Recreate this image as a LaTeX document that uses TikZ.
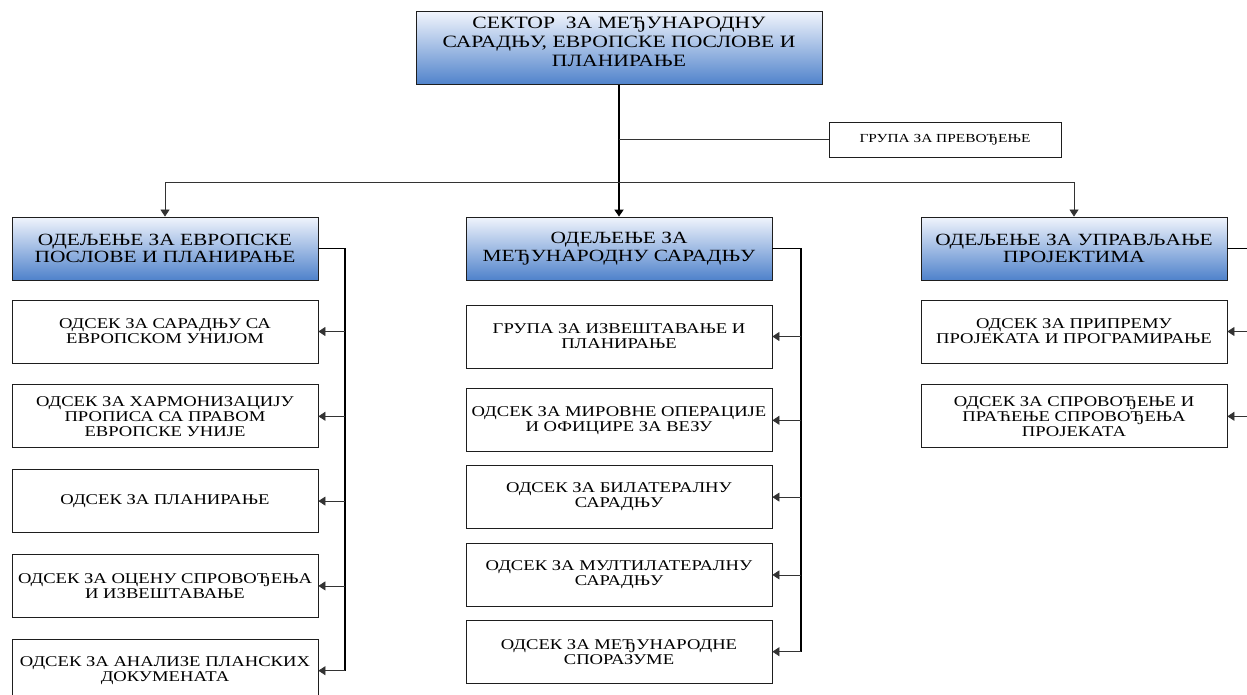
\documentclass[tikz,border=0pt]{standalone}
\usepackage{fontspec}
\setmainfont[FakeStretch=1.25]{Liberation Serif}
\usetikzlibrary{arrows.meta, positioning}
\definecolor{deptop}{HTML}{F0F4FC}
\definecolor{depbot}{HTML}{4F82CB}
\definecolor{frame}{HTML}{1E1E1E}

\begin{document}
\begin{tikzpicture}[x=1pt, y=-1pt,
  head/.style={draw=frame, line width=1pt, top color=deptop, bottom color=depbot,
               minimum width=406pt, minimum height=73pt, inner sep=2pt,
               text depth=14pt, align=center, font=\fontsize{17.3}{19}\selectfont},
  dept/.style={draw=frame, line width=0.8pt, top color=deptop, bottom color=depbot,
               minimum width=306pt, minimum height=63pt, inner sep=2pt,
               align=center, font=\fontsize{17.1}{17.5}\selectfont},
  unit/.style={draw=frame, line width=0.8pt, fill=white,
               minimum width=306pt, minimum height=63pt, inner sep=2pt,
               align=center, font=\fontsize{14.9}{15}\selectfont},
  grp/.style={draw=frame, line width=0.7pt, fill=white,
              minimum width=232pt, minimum height=35pt,
              font=\fontsize{12.3}{13}\selectfont},
  trunk/.style={line width=1.7pt},
  link/.style={line width=0.8pt, color=black!80},
  arr/.style={-{Triangle[length=7pt, width=9pt]}}
]
  \useasboundingbox (0,0) rectangle (1247,695);

  % Sector
  \node[head] (sector) at (619,48.5)
    {СЕКТОР~ ЗА МЕЂУНАРОДНУ\\САРАДЊУ, ЕВРОПСКЕ ПОСЛОВЕ И\\ПЛАНИРАЊЕ};
  \node[grp] (prev) at (945,139.5) {ГРУПА ЗА ПРЕВОЂЕЊЕ};

  % Departments
  \node[dept] (dep1) at (165,248.5) {ОДЕЉЕЊЕ ЗА ЕВРОПСКЕ\\ПОСЛОВЕ И ПЛАНИРАЊЕ};
  \node[dept] (dep2) at (619,248.5) {ОДЕЉЕЊЕ ЗА\\МЕЂУНАРОДНУ САРАДЊУ};
  \node[dept] (dep3) at (1074,248.5) {ОДЕЉЕЊЕ ЗА УПРАВЉАЊЕ\\ПРОЈЕКТИМА};

  % European affairs units
  \node[unit] (u11) at (165,331.5) {ОДСЕК ЗА САРАДЊУ СА\\ЕВРОПСКОМ УНИЈОМ};
  \node[unit, below=21pt of u11] (u12)
    {ОДСЕК ЗА ХАРМОНИЗАЦИЈУ\\ПРОПИСА СА ПРАВОМ\\ЕВРОПСКЕ УНИЈЕ};
  \node[unit, below=21pt of u12] (u13) {ОДСЕК ЗА ПЛАНИРАЊЕ};
  \node[unit, below=21pt of u13] (u14) {ОДСЕК ЗА ОЦЕНУ СПРОВОЂЕЊА\\И ИЗВЕШТАВАЊЕ};
  \node[unit, below=21pt of u14] (u15) {ОДСЕК ЗА АНАЛИЗЕ ПЛАНСКИХ\\ДОКУМЕНАТА};

  % International cooperation units
  \node[unit] (u21) at (619,336.5) {ГРУПА ЗА ИЗВЕШТАВАЊЕ И\\ПЛАНИРАЊЕ};
  \node[unit, below=20pt of u21] (u22) {ОДСЕК ЗА МИРОВНЕ ОПЕРАЦИЈЕ\\И ОФИЦИРЕ ЗА ВЕЗУ};
  \node[unit, below=13pt of u22] (u23) {ОДСЕК ЗА БИЛАТЕРАЛНУ\\САРАДЊУ};
  \node[unit, below=14pt of u23] (u24) {ОДСЕК ЗА МУЛТИЛАТЕРАЛНУ\\САРАДЊУ};
  \node[unit, below=13pt of u24] (u25) {ОДСЕК ЗА МЕЂУНАРОДНЕ\\СПОРАЗУМЕ};

  % Project management units
  \node[unit] (u31) at (1074,331.5) {ОДСЕК ЗА ПРИПРЕМУ\\ПРОЈЕКАТА И ПРОГРАМИРАЊЕ};
  \node[unit, below=21pt of u31] (u32)
    {ОДСЕК ЗА СПРОВОЂЕЊЕ И\\ПРАЋЕЊЕ СПРОВОЂЕЊА\\ПРОЈЕКАТА};

  \coordinate (bus) at (619,182);
  \coordinate (lbus) at (345,0);
  \coordinate (mbus) at (801,0);
  \coordinate (rbus) at (1262,0);

  \draw[trunk, arr] (sector.south) -- (dep2.north);
  \draw[link] (sector.south |- prev.west) -- (prev.west);
  \draw[link, arr] (bus) -| (dep1.north);
  \draw[link, arr] (bus) -| (dep3.north);

  \draw[trunk] (dep1.east) -| (lbus |- u15.east);
  \draw[trunk] (dep2.east) -| (mbus |- u25.east);
  \draw[trunk] (dep3.east) -| (rbus |- u32.east);

  \foreach \u in {u11,u12,u13,u14,u15}
    \draw[link, arr] (lbus |- \u.east) -- (\u.east);
  \foreach \u in {u21,u22,u23,u24,u25}
    \draw[link, arr] (mbus |- \u.east) -- (\u.east);
  \foreach \u in {u31,u32}
    \draw[link, arr] (rbus |- \u.east) -- (\u.east);
\end{tikzpicture}
\end{document}
